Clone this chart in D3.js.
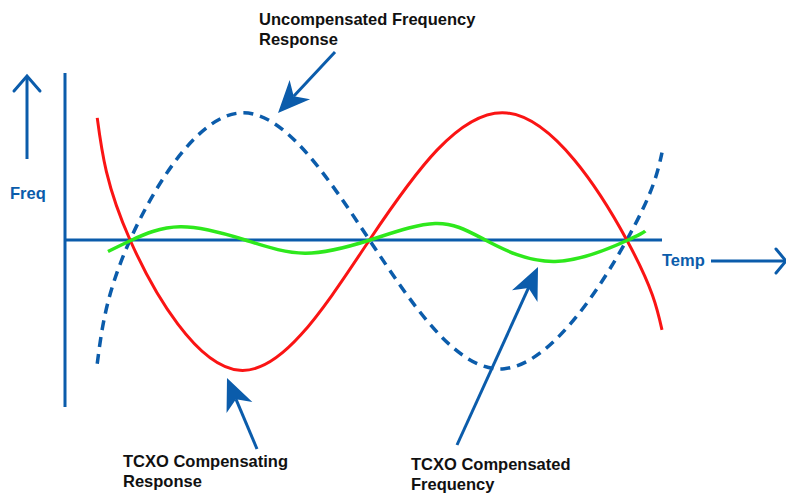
<!DOCTYPE html>
<html>
<head>
<meta charset="utf-8">
<script src="https://cdn.jsdelivr.net/npm/d3@7/dist/d3.min.js"></script>
<style>
  html, body { margin: 0; padding: 0; background: #fff; }
  svg { display: block; }
  text { font-family: "Liberation Sans", Arial, sans-serif; font-weight: bold; }
</style>
</head>
<body>
<svg id="chart" width="786" height="494"></svg>
<script>
// ---- data (temperature in % of range, frequency deviation normalised) ----
const uncompTemp = [5.4, 10.9, 29.3, 51.0, 73.6, 94.1, 100];
const uncompFreq = [-0.75, 0, 0.77, 0, -0.78, 0, 0.53];

const compingTemp = [5.4, 10.9, 29.3, 51.0, 74.0, 94.1, 100];
const compingFreq = [0.74, 0, -0.79, 0, 0.77, 0, -0.545];

const compedTemp = [7.2, 11.2, 19.3, 30.2, 40.2, 51.1, 62.0, 70.4, 82.1, 94.3, 97.2];
const compedFreq = [-0.07, 0, 0.08, 0, -0.08, 0, 0.10, 0, -0.13, 0, 0.055];

const axisLabels = { y: "Freq", x: "Temp" };
const annotations = [
  { lines: ["Uncompensated Frequency", "Response"] },
  { lines: ["TCXO Compensating", "Response"] },
  { lines: ["TCXO Compensated", "Frequency"] }
];

// ---- drawing ----
const svg = d3.select("#chart");
const BLUE = "#0b5cab", RED = "#fa1414", GREEN = "#2ee81c", INK = "#111";
const FS = 16.5;

const x = d3.scaleLinear().domain([0, 100]).range([65, 662]);
const y = d3.scaleLinear().domain([-1, 1]).range([405, 75]);

// axes
svg.append("line").attr("x1", x(0)).attr("x2", x(0)).attr("y1", 73).attr("y2", 407)
  .attr("stroke", BLUE).attr("stroke-width", 3);
svg.append("line").attr("x1", x(0)).attr("x2", x(100)).attr("y1", y(0)).attr("y2", y(0))
  .attr("stroke", BLUE).attr("stroke-width", 3);

const line = d3.line().curve(d3.curveNatural).x(d => x(d[0])).y(d => y(d[1]));
const zip = (a, b) => a.map((v, i) => [v, b[i]]);

svg.append("path").datum(zip(uncompTemp, uncompFreq)).attr("d", line)
  .attr("fill", "none").attr("stroke", BLUE).attr("stroke-width", 3.5)
  .attr("stroke-dasharray", "10,7");
svg.append("path").datum(zip(compingTemp, compingFreq)).attr("d", line)
  .attr("fill", "none").attr("stroke", RED).attr("stroke-width", 3);
svg.append("path").datum(zip(compedTemp, compedFreq)).attr("d", line)
  .attr("fill", "none").attr("stroke", GREEN).attr("stroke-width", 3.5);

// Freq open arrow
svg.append("line").attr("x1", 27).attr("x2", 27).attr("y1", 159).attr("y2", 76)
  .attr("stroke", BLUE).attr("stroke-width", 3);
svg.append("path").attr("d", "M14,91 L27,76 L40,91")
  .attr("fill", "none").attr("stroke", BLUE).attr("stroke-width", 3).attr("stroke-linecap", "round");
svg.append("text").attr("x", 10).attr("y", 199).attr("font-size", FS).attr("fill", BLUE).text(axisLabels.y);

// Temp open arrow
svg.append("text").attr("x", 662).attr("y", 266).attr("font-size", FS).attr("fill", BLUE).text(axisLabels.x);
svg.append("line").attr("x1", 711).attr("x2", 785).attr("y1", 261).attr("y2", 261)
  .attr("stroke", BLUE).attr("stroke-width", 3);
svg.append("path").attr("d", "M776,249 L786,261 L776,273")
  .attr("fill", "none").attr("stroke", BLUE).attr("stroke-width", 3).attr("stroke-linecap", "round");

// callout arrows
function callout(x1, y1, x2, y2) {
  const dx = x2 - x1, dy = y2 - y1, L = Math.hypot(dx, dy);
  const ux = dx / L, uy = dy / L, px = -uy, py = ux;
  const len = 32, hw = 14, notch = 9;
  const bx = x2 - ux * len, by = y2 - uy * len;
  const nx = x2 - ux * (len - notch), ny = y2 - uy * (len - notch);
  svg.append("line").attr("x1", x1).attr("y1", y1).attr("x2", nx).attr("y2", ny)
    .attr("stroke", BLUE).attr("stroke-width", 3);
  svg.append("path")
    .attr("d", `M${x2},${y2} L${bx + px * hw},${by + py * hw} L${nx},${ny} L${bx - px * hw},${by - py * hw} Z`)
    .attr("fill", BLUE);
}
callout(335, 52, 278, 113);
callout(257, 449, 227, 378);
callout(457, 445, 538, 267);

function label(a, x0, y0) {
  a.lines.forEach((t, i) => {
    svg.append("text").attr("x", x0).attr("y", y0 + i * 20).attr("font-size", FS).attr("fill", INK).text(t);
  });
}
label(annotations[0], 259, 25);
label(annotations[1], 123, 467);
label(annotations[2], 411, 470);
</script>
</body>
</html>
